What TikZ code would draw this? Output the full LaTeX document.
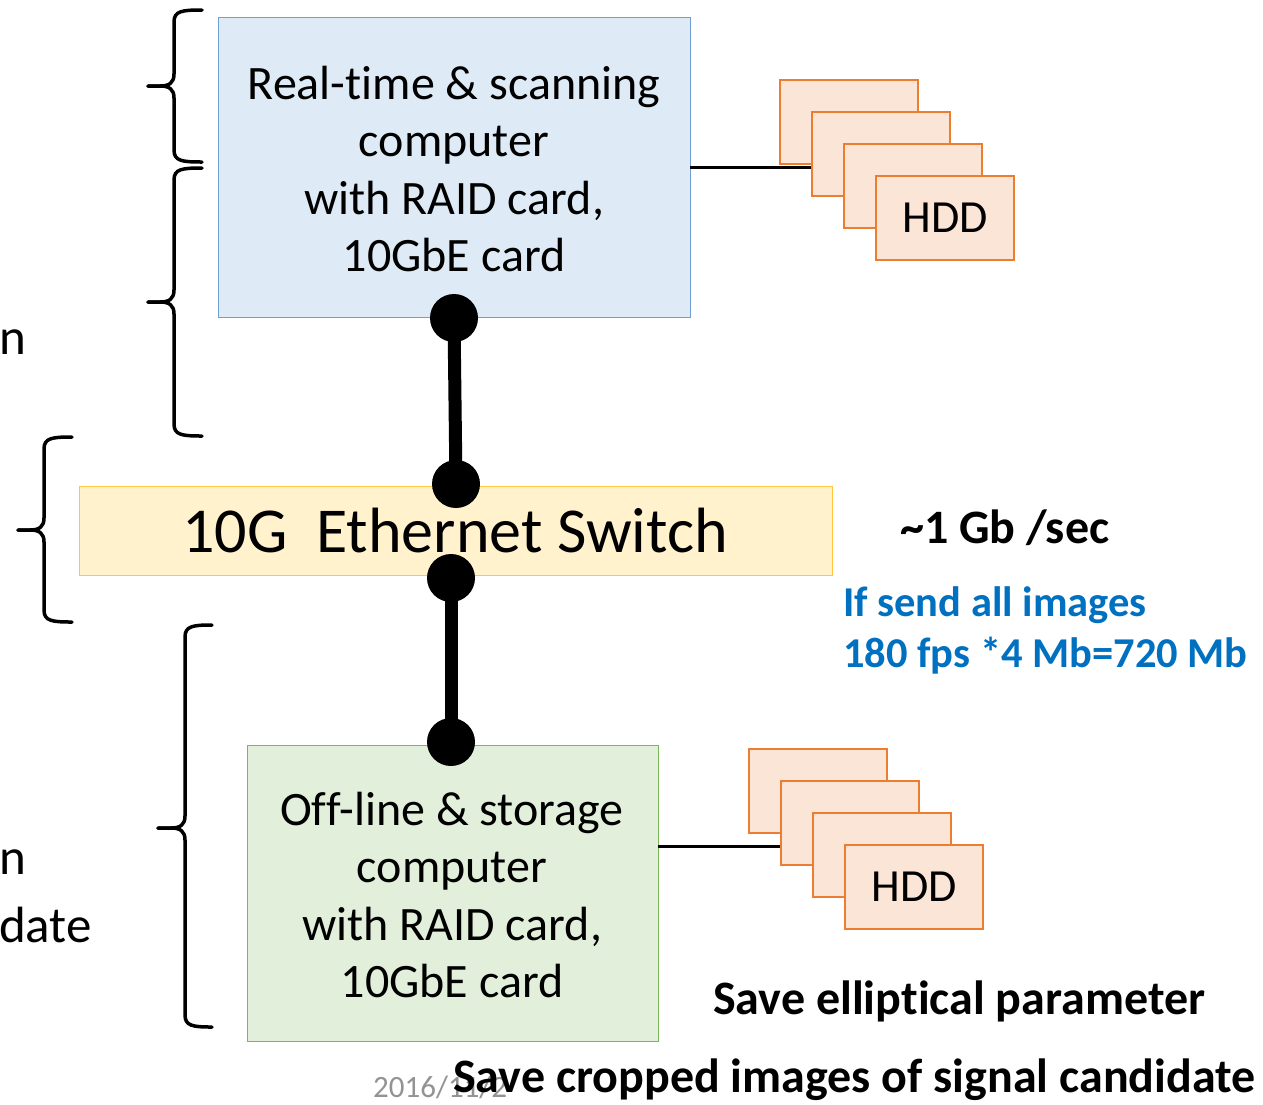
\documentclass[tikz,border=0pt]{standalone}
\usepackage{fontspec}
\setmainfont[RawFeature={-liga;-clig;-calt;-dlig}]{Carlito}
\begin{document}
\begin{tikzpicture}[x=1pt,y=-1pt,
  brace/.style={line width=3.5pt,line cap=round,line join=round},
  bluebox/.style={draw=boxblue,fill=fillblue,line width=0.9pt},
  greenbox/.style={draw=boxgreen,fill=fillgreen,line width=0.9pt},
  yellowbox/.style={draw=boxyellow,fill=fillyellow,line width=0.9pt},
  hdd/.style={draw=hddline,fill=hddfill,line width=2.2pt,minimum width=138pt,minimum height=84pt,inner sep=0pt,font=\fontsize{46}{52}\selectfont},
  dot/.style={circle,fill=black,minimum size=48pt,inner sep=0pt},
  bus/.style={line width=13pt},
  link/.style={line width=3pt},
  main/.style={font=\fontsize{48}{57.5}\selectfont,align=center},
  side/.style={font=\fontsize{51}{57.5}\selectfont,anchor=west,inner sep=0pt},
  boldt/.style={font=\fontsize{48}{52}\bfseries\selectfont,anchor=west,inner sep=0pt},
  bluet/.style={font=\fontsize{42.5}{51}\bfseries\selectfont,text=textblue,anchor=west,inner sep=0pt,align=left}
]
\definecolor{boxblue}{HTML}{6F9FD3}
\definecolor{fillblue}{HTML}{DEEAF6}
\definecolor{boxgreen}{HTML}{7DB65A}
\definecolor{fillgreen}{HTML}{E2EFDA}
\definecolor{boxyellow}{HTML}{FFC83D}
\definecolor{fillyellow}{HTML}{FFF2CC}
\definecolor{hddline}{HTML}{ED7D31}
\definecolor{hddfill}{HTML}{FBE5D6}
\definecolor{textblue}{HTML}{0070C0}
\useasboundingbox (0,0) rectangle (1263,1104);
\fill[white] (0,0) rectangle (1263,1104);

% boxes
\draw[bluebox] (218,17) rectangle (690,317);
\node[main] (rt) at (454,169) {Real-time \& scanning\\computer\\with RAID card,\\10GbE card};
\coordinate (rtbox) at (690,167);
\draw[yellowbox] (79,486) rectangle (832,575);
\node[font=\fontsize{64}{70}\selectfont] (sw) at (455,531) {10G\ \ Ethernet Switch};
\draw[greenbox] (247,745) rectangle (658,1041);
\node[main] (ol) at (452,895) {Off-line \& storage\\computer\\with RAID card,\\10GbE card};
\coordinate (olbox) at (658,846);

% HDD stacks
\node[hdd] (h1) at (849,122) {};
\node[hdd] (h2) at (881,154) {};
\node[hdd] (h3) at (913,186) {};
\node[hdd] (h4) at (945,218) {HDD};
\draw[link] (rtbox) -- (rtbox -| h2.west);

\node[hdd] (g1) at (818,791) {};
\node[hdd] (g2) at (850,823) {};
\node[hdd] (g3) at (882,855) {};
\node[hdd] (g4) at (914,887) {HDD};
\draw[link] (olbox) -- (olbox -| g2.west);

% network links
\node[dot] (d1) at (454,318) {};
\node[dot] (d2) at (456,484) {};
\node[dot] (d3) at (451,578) {};
\node[dot] (d4) at (451,742) {};
\draw[bus] (d1.center) -- (d2.center);
\draw[bus] (d3.center) -- (d4.center);

% braces: endx, vx, top, tipx, tipy, bottom
\newcommand\mybrace[6]{%
  \draw[brace] (#1,#3) .. controls (#2+8,#3) and (#2,#3+1) .. (#2,#3+12) -- (#2,#5-12)
     .. controls (#2,#5-3) and (#2-5,#5) .. (#2-14,#5) -- (#4,#5);
  \draw[brace] (#1,#6) .. controls (#2+8,#6) and (#2,#6-1) .. (#2,#6-12) -- (#2,#5+12)
     .. controls (#2,#5+3) and (#2-5,#5) .. (#2-14,#5) -- (#4,#5);
}
\mybrace{202}{174}{10}{148}{86}{162}
\mybrace{202}{174}{168}{148}{302}{436}
\mybrace{72}{44}{437}{18}{530}{622}
\mybrace{212}{185}{625}{158}{828}{1027}

% left cut-off texts
\node[side] (n1) at (-1,342) {n};
\node[side] (n2) at (-1,862) {n};
\node[side] (n3) at (-1,925) {date};

% right texts
\node[boldt] (rate) at (900,528) {\textasciitilde 1 Gb /sec};
\node[bluet] (blu) at (843,630) {If send all images\\180 fps *4 Mb=720 Mb};
\node[boldt] (sep) at (713,1001) {Save elliptical parameter};
\node[font=\fontsize{31}{34}\selectfont,text=gray!85,anchor=west,inner sep=0pt] (date) at (373,1087) {2016/11/2};
\node[boldt] (scc) at (453,1080) {Save cropped images of signal candidate};
\end{tikzpicture}
\end{document}
